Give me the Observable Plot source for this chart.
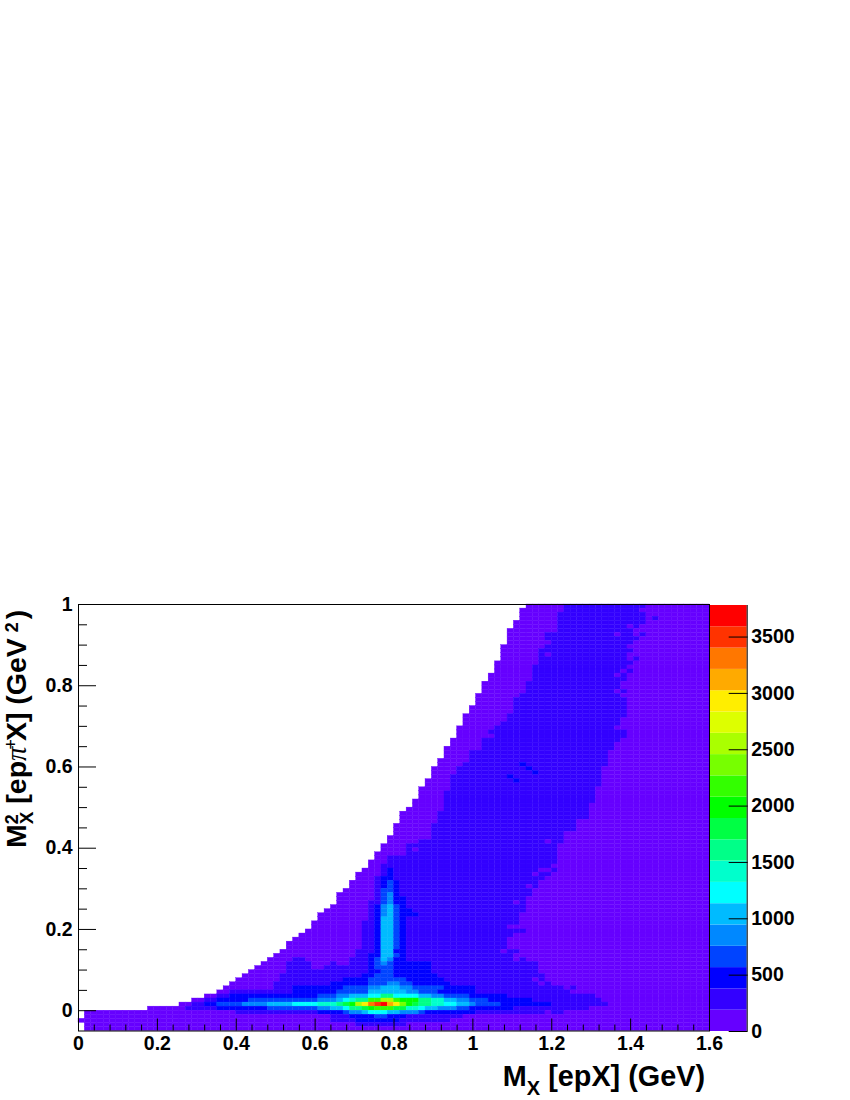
<!DOCTYPE html>
<html>
<head>
<meta charset="utf-8">
<script src="https://cdn.jsdelivr.net/npm/d3@7"></script>
<script src="https://cdn.jsdelivr.net/npm/@observablehq/plot@0.6"></script>
<style>
html,body{margin:0;padding:0;background:#fff;}
#wrap{display:flex;width:850px;height:1100px;}
svg{display:block;font-family:"Liberation Sans",Arial,sans-serif;font-weight:bold;}
</style>
</head>
<body>
<div id="wrap"></div>
<script>
// Histogram: bins in M_X and M²_X
const binWidthX = 0.016;
const binWidthY = 0.01;
const yStart = -0.05;
const xDomain = [0, 1.6];
const yDomain = [-0.05, 1];
const zMax = 3780;
const levelEdges = [189,378,567,756,945,1134,1323,1512,1701,1890,2079,2268,2457,2646,2835,3024,3213,3402,3591];
const palette = ["#6600ff","#3300ff","#0000ff","#0044ff","#0088ff","#00bbff","#00ffff","#00ffcc","#00ff88","#00ff44","#00ff00","#33ff00","#77ff00","#aaff00","#ddff00","#ffee00","#ffaa00","#ff7700","#ff3300","#ff0000"];
const xMajor = [0,0.2,0.4,0.6,0.8,1,1.2,1.4,1.6];
const xMinor = [0.04,0.08,0.12,0.16,0.24,0.28,0.32,0.36,0.44,0.48,0.52,0.56,0.64,0.68,0.72,0.76,0.84,0.88,0.92,0.96,1.04,1.08,1.12,1.16,1.24,1.28,1.32,1.36,1.44,1.48,1.52,1.56];
const yMajor = [0,0.2,0.4,0.6,0.8,1];
const yMinor = [0.05,0.1,0.15,0.25,0.3,0.35,0.45,0.5,0.55,0.65,0.7,0.75,0.85,0.9,0.95];
const zTicks = [0,500,1000,1500,2000,2500,3000,3500];

// One entry per y bin, top row first. "col:level" = from this x bin on, the colour level; before the first entry the bin is empty.
const spikeMid = "47:2 48:5 50:3 51:2 52:1";
const rowsTopDown = [
"71:0 77:1 90:0","70:0 77:1 89:0","70:0 76:1 90:0","70:0 76:1 90:0 91:1 92:0","69:0 76:1 90:0",
"69:0 76:1 87:0 88:1 89:0","68:0 76:1 88:0","68:0 74:1 85:0 86:1 88:0 89:1 90:0","68:0 74:1 89:0","68:0 75:1 88:0",
"67:0 74:1 87:0","67:0 73:1 88:0","67:0 73:1 74:0 75:1 87:0","67:0 73:1 87:0 88:1 89:0","66:0 73:1 88:0",
"66:0 72:1 87:0","66:0 72:1 86:0 87:1 88:0","65:0 72:1 85:0 86:1 87:0","65:0 72:1 87:0","64:0 71:1 86:0",
"64:0 71:1 86:0","64:0 71:1 85:0 86:1 87:0","63:0 70:1 86:0","63:0 69:1 87:0","63:0 69:1 87:0",
"62:0 69:1 87:0","62:0 69:1 87:0","61:0 68:1 87:0","61:0 68:1 86:0","61:0 67:1 86:0",
"60:0 66:1 85:0","60:0 65:1 87:0","60:0 66:1 87:0","59:0 64:1 86:0","59:0 64:1 85:0",
"58:0 64:1 85:0","58:0 62:1 84:0","58:0 62:1 84:0","57:0 62:1 84:0","57:0 61:1 70:2 71:1 84:0",
"56:0 60:1 71:2 72:1 83:0","56:0 60:1 72:2 73:1 83:0","56:0 59:1 68:2 69:1 83:0","55:0 59:1 69:2 70:1 83:0","55:0 59:1 83:0",
"54:0 59:1 82:0","54:0 58:1 82:0","54:0 58:1 82:0","53:0 58:1 82:0","53:0 58:1 81:0",
"52:0 58:1 81:0","51:0 57:1 81:0","51:0 57:1 81:0","51:0 57:1 79:0","50:0 56:1 79:0",
"50:0 56:1 79:0","50:0 56:1 77:0","49:0 56:1 77:0","49:0 54:1 74:0 75:1 77:0","48:0 52:1 76:0",
"48:0 52:1 53:0 54:1 76:0","47:0 52:1 76:0","47:0 49:1 76:0","46:0 49:1 76:0","46:0 48:1 75:0",
"45:0 48:1 49:2 50:1 73:0 75:1 76:0","44:0 48:1 49:2 50:1 72:0 73:1 75:0","44:0 47:1 48:2 50:1 74:0","43:0 47:1 48:2 49:3 50:2 51:1 73:0","43:0 47:1 48:2 49:3 50:2 51:1 71:0 72:1 73:0",
"42:0 47:1 48:3 50:2 51:1 72:0","41:0 47:1 48:3 49:4 50:2 51:1 72:0","41:0 47:1 48:3 49:4 50:2 52:1 71:0","41:0 46:1 48:3 49:4 50:2 52:1 69:0 70:1 71:0","40:0 46:1 47:2 48:4 49:5 50:3 51:2 52:1 71:0",
"39:0 46:1 47:2 48:4 49:5 50:3 51:2 53:1 71:0","38:0 46:1 47:2 48:4 49:5 50:3 51:2 54:1 70:0","38:0 46:1 47:2 48:5 50:3 51:2 52:1 70:0",
`37:0 45:1 ${spikeMid} 70:0`,`37:0 45:1 ${spikeMid} 68:0`,`36:0 45:1 ${spikeMid} 71:0`,`35:0 45:1 ${spikeMid} 69:0`,`34:0 45:1 ${spikeMid} 68:0`,`33:0 45:1 ${spikeMid} 68:0`,`33:0 45:1 ${spikeMid} 68:0`,
"32:0 44:1 47:2 48:5 50:2 52:1 67:0 68:1 70:0",
"31:0 44:1 46:2 48:5 50:3 51:2 52:1 69:0",
"30:0 34:1 36:0 43:1 46:2 47:3 48:5 49:4 50:2 52:1 69:0 70:1 71:0",
"29:0 33:1 37:0 40:1 41:0 43:1 46:2 47:3 48:4 49:3 50:2 56:1 73:0",
"28:0 33:1 37:0 39:1 46:2 47:3 50:2 56:1 73:0",
"27:0 33:1 46:2 48:3 50:2 56:1 73:0",
"26:0 32:1 45:2 47:3 50:2 57:1 74:0",
"25:0 32:1 42:2 46:3 52:2 58:1 72:0 73:1 74:0",
"24:0 31:1 40:2 46:3 49:4 51:3 53:2 59:1 73:0 74:1 75:0",
"23:0 31:1 34:2 42:3 46:4 48:5 51:4 53:3 58:2 63:1 77:0 78:1 79:0",
"22:0 24:1 34:2 41:3 46:5 52:4 54:3 57:2 63:1 78:0",
"20:0 22:1 24:2 38:3 41:4 43:5 46:6 48:8 50:6 54:5 56:4 58:3 62:2 68:1 82:0",
"18:0 20:1 22:2 27:3 38:4 41:5 42:6 43:7 44:8 46:11 48:13 50:11 51:10 54:8 56:7 58:5 60:4 62:3 65:2 72:1 83:0",
"16:0 18:1 20:2 22:3 26:4 30:5 34:6 38:7 41:8 42:9 43:10 44:13 45:15 46:17 47:18 48:19 49:16 50:15 51:12 52:10 53:9 54:8 56:7 58:6 60:5 62:4 63:3 67:2 75:1 84:0",
"11:0 17:1 22:2 30:3 38:4 40:5 42:6 43:8 45:9 46:10 47:11 50:9 52:7 54:6 55:5 57:4 60:3 62:2 69:1 81:0",
"1:0 25:1 38:2 42:3 43:4 45:5 46:6 49:5 51:4 54:3 55:2 63:1 74:0 75:1 77:0",
"1:0 40:1 43:2 47:3 49:2 52:1 61:0",
"0:0 40:1 44:2 51:1 59:0",
"1:0 44:1 52:0",
"1:0"
];

// Expand the runs into bins
const bins = [];
rowsTopDown.forEach((row, i) => {
  const r = rowsTopDown.length - 1 - i;
  const runs = row.split(" ").map(s => s.split(":"));
  runs.forEach(([c, l], k) => {
    const end = k + 1 < runs.length ? +runs[k + 1][0] : 100;
    for (let col = +c; col < end; ++col) {
      bins.push({
        x1: col * binWidthX, x2: (col + 1) * binWidthX,
        y1: yStart + r * binWidthY, y2: yStart + (r + 1) * binWidthY,
        count: (+l + 0.5) * 189
      });
    }
  });
});
const colorBins = palette.map((_, i) => ({
  y1: i * 189, y2: Math.min((i + 1) * 189, zMax), count: (i + 0.5) * 189
}));
const colorScale = {type: "threshold", domain: levelEdges, range: palette};
const fs = 19.5;
const baseStyle = {fontFamily: '"Liberation Sans",Arial,sans-serif', fontSize: fs + "px", fontWeight: "bold", overflow: "visible"};

const main = Plot.plot({
  width: 710, height: 1100,
  marginLeft: 78, marginRight: 1, marginTop: 604, marginBottom: 69.5,
  style: {...baseStyle, background: "transparent", position: "relative", zIndex: 2},
  x: {domain: xDomain, label: null},
  y: {domain: yDomain, label: null},
  color: colorScale,
  marks: [
    Plot.rect(bins, {x1: "x1", x2: "x2", y1: "y1", y2: "y2", fill: "count", stroke: "count", strokeWidth: 0.35, inset: 0}),
    Plot.frame({stroke: "black", strokeWidth: 1}),
    Plot.axisX({ticks: xMajor, tickSize: -12, tickPadding: 17, tickFormat: d3.format("~g"), label: null, stroke: "black", fill: "black"}),
    Plot.axisX({ticks: xMinor, tickSize: -6, tickFormat: () => "", label: null, stroke: "black"}),
    Plot.axisY({ticks: yMajor, tickSize: -18, tickPadding: 24, tickFormat: d3.format("~g"), label: null, stroke: "black", fill: "black"}),
    Plot.axisY({ticks: yMinor, tickSize: -9, tickFormat: () => "", label: null, stroke: "black"})
  ]
});

const bar = Plot.plot({
  width: 140, height: 1100,
  marginLeft: 0, marginRight: 103.3, marginTop: 605, marginBottom: 69,
  style: {...baseStyle, background: "white"},
  x: {domain: [0, 1], axis: null},
  y: {domain: [0, zMax], label: null},
  color: colorScale,
  marks: [
    Plot.rect(colorBins, {x1: 0, x2: 1, y1: "y1", y2: "y2", fill: "count"}),
    Plot.ruleX([1], {stroke: "black"}),
    Plot.axisY({anchor: "right", ticks: zTicks, tickSize: -19, tickPadding: 23, tickFormat: d3.format("d"), label: null, stroke: "black", fill: "black"})
  ]
});

// Axis titles with sub- and superscripts
const mainSvg = d3.select(main);
const xt = mainSvg.append("text").attr("x", 705).attr("y", 1086).attr("text-anchor", "end")
  .style("font-size", "28.8px").style("font-weight", "bold").attr("fill", "black");
xt.append("tspan").text("M");
xt.append("tspan").attr("dy", 9).style("font-size", "20px").text("X");
xt.append("tspan").attr("dy", -9).text(" [epX] (GeV)");

const yt = mainSvg.append("text").attr("transform", "translate(26,848) rotate(-90)").attr("text-anchor", "start")
  .style("font-size", "28.5px").style("font-weight", "bold").attr("fill", "black");
yt.append("tspan").text("M");
yt.append("tspan").attr("dy", -8).style("font-size", "18px").text("2");
yt.append("tspan").attr("dy", 15).attr("dx", -10).style("font-size", "19px").text("X");
yt.append("tspan").attr("dy", -7).text(" [ep");
yt.append("tspan").style("font-family", '"Liberation Serif",serif').style("font-style", "italic").style("font-weight", "normal").text("π");
yt.append("tspan").attr("dy", -9).attr("dx", -3).style("font-size", "18px").style("font-weight", "normal").text("+");
yt.append("tspan").attr("dy", 9).attr("dx", -2).text("X] (GeV");
yt.append("tspan").attr("dy", -8).attr("dx", 6).style("font-size", "18px").text("2");
yt.append("tspan").attr("dy", 8).attr("dx", 3).text(")");

const wrap = document.getElementById("wrap");
wrap.append(main, bar);
</script>
</body>
</html>
